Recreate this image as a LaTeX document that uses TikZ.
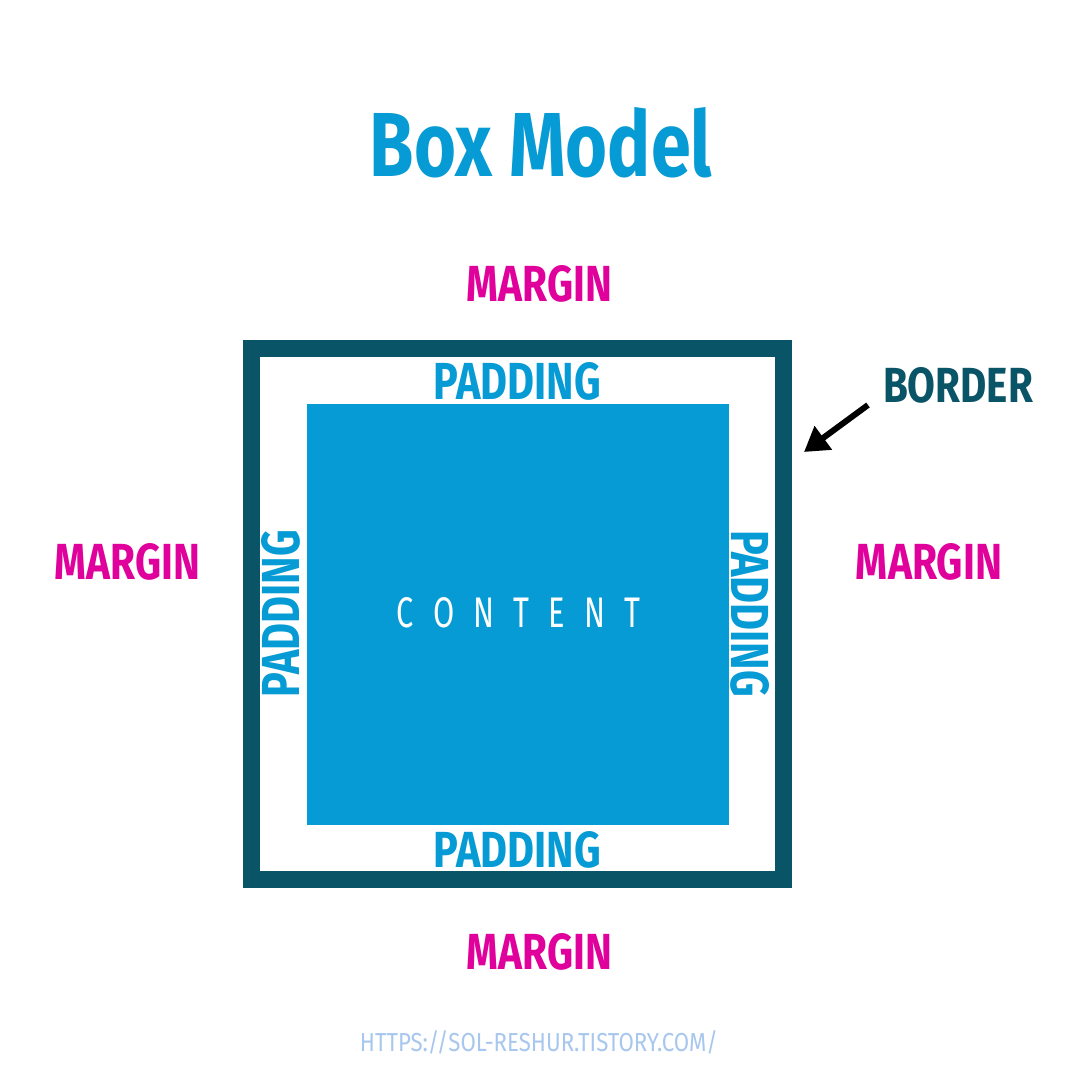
\documentclass[tikz,border=0pt]{standalone}
\usepackage{fontspec}
\setmainfont{Fira Sans}
\usepackage{graphicx}
\usetikzlibrary{arrows.meta}
\definecolor{cblue}{HTML}{069BD4}
\definecolor{cmag}{HTML}{E0009B}
\definecolor{cteal}{HTML}{0A5468}
\definecolor{curl}{HTML}{A7C7EF}
\tikzset{
  lbl/.style={inner sep=0pt, outer sep=0pt, anchor=center},
  marginlbl/.style={lbl, text=cmag},
  paddinglbl/.style={lbl, text=cblue},
}
\newcommand{\fitbox}[3]{\resizebox{#1pt}{#2pt}{#3}}
\newcommand{\lsp}{\kern0.62em}
\begin{document}
\begin{tikzpicture}[x=1pt,y=-1pt]
\useasboundingbox (0,0) rectangle (1080,1080);
\fill[white] (0,0) rectangle (1080,1080);
% border
\fill[cteal] (243,340) rectangle (792,888);
\fill[white] (260,357) rectangle (775,871);
% content
\fill[cblue] (307,404) rectangle (729,825);
\node[lbl, text=cblue] (title) at (541,142.5) {\fitbox{342}{69}{\bfseries Box Model}};
\node[marginlbl] (mtop) at (539.5,284) {\fitbox{145}{36}{\bfseries MARGIN}};
\node[marginlbl] (mbot) at (539.5,951.5) {\fitbox{145}{36}{\bfseries MARGIN}};
\node[marginlbl] (mleft) at (127.5,561.5) {\fitbox{145}{36}{\bfseries MARGIN}};
\node[marginlbl] (mright) at (929,561.5) {\fitbox{146}{36}{\bfseries MARGIN}};
\node[paddinglbl] (ptop) at (517.5,381.5) {\fitbox{167}{37}{\bfseries PADDING}};
\node[paddinglbl] (pbot) at (517.5,850) {\fitbox{167}{36}{\bfseries PADDING}};
\node[paddinglbl, rotate=90] (pleft) at (281,613.5) {\fitbox{167}{38}{\bfseries PADDING}};
\node[paddinglbl, rotate=-90] (pright) at (750,613.5) {\fitbox{167}{38}{\bfseries PADDING}};
\node[lbl, text=white] (content) at (518.5,613) {\fitbox{243}{30}{\fontseries{l}\selectfont C\lsp O\lsp N\lsp T\lsp E\lsp N\lsp T}};
\node[lbl, text=cteal] (border) at (958,385) {\fitbox{150}{35}{\bfseries BORDER}};
\node[lbl, text=curl] (url) at (539,1042.5) {\fitbox{358}{21}{HTTPS://SOL-RESHUR.TISTORY.COM/}};
\coordinate (astart) at (868,405);
\coordinate (atip) at (804,452);
\draw[line width=6pt, -{Triangle[length=24pt,width=28pt]}] (astart) -- (atip);
\end{tikzpicture}
\end{document}
